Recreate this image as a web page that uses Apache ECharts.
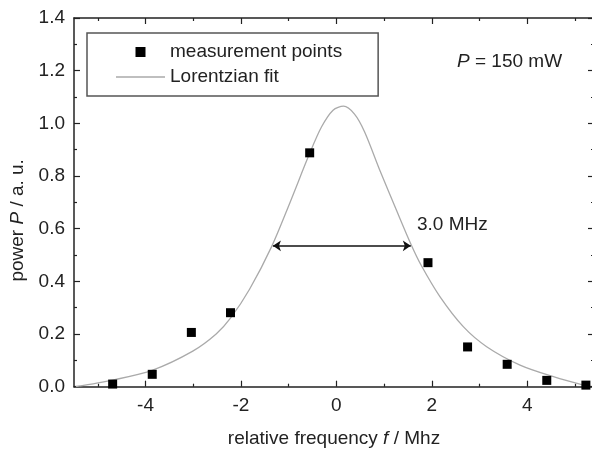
<!DOCTYPE html>
<html>
<head>
<meta charset="utf-8">
<script src="https://cdn.jsdelivr.net/npm/echarts@6/dist/echarts.min.js"></script>
<style>html,body{margin:0;padding:0;background:#fff}#c{width:592px;height:450px}</style>
</head>
<body>
<div id="c"></div>
<script>
// measurement points
const measX = [-4.69, -3.86, -3.04, -2.22, -0.56, 1.92, 2.75, 3.58, 4.41, 5.23];
const measY = [0.01, 0.047, 0.206, 0.281, 0.888, 0.471, 0.151, 0.085, 0.024, 0.006];
// Lorentzian fit curve
const fitX = [-5.46, -4.69, -3.85, -3.01, -2.52, -2.22, -1.82, -1.36, -0.98, -0.56, -0.31, -0.07, 0.15, 0.38, 0.59, 0.91, 1.26, 1.57, 1.78, 2.17, 2.66, 3.15, 3.85, 4.55, 5.18, 5.32];
const fitY = [0.0, 0.025, 0.063, 0.135, 0.2, 0.26, 0.37, 0.531, 0.696, 0.886, 0.987, 1.05, 1.065, 1.035, 0.968, 0.822, 0.67, 0.538, 0.46, 0.342, 0.228, 0.152, 0.082, 0.038, 0.006, 0.002];
// FWHM arrow
const fwhmLeft = -1.33, fwhmRight = 1.56, halfMax = 0.535;
// ticks
const xMajorTicks = [-4, -2, 0, 2, 4];
const xMinorTicks = [-5, -3, -1, 1, 3, 5];
const seriesNames = ['measurement points', 'Lorentzian fit'];

const FONT = '"Liberation Sans", Arial, sans-serif';
const TXT = '#222';
const AX = '#222';
const FIT = '#aaa';

const chart = echarts.init(document.getElementById('c'), null, {renderer: 'canvas'});

function xAx(pos, ticks, len, showLine, showLabel, extra) {
  return Object.assign({
    type: 'value', gridIndex: 0, position: pos, min: -5.5, max: 5.4,
    axisLine: {show: showLine, onZero: false, lineStyle: {color: AX, width: 1.5}},
    axisTick: {show: true, inside: true, length: len, customValues: ticks, lineStyle: {color: AX, width: 1.2}},
    axisLabel: {show: showLabel, customValues: ticks, margin: 10, fontSize: 19, color: TXT, fontFamily: FONT},
    splitLine: {show: false}
  }, extra || {});
}

const option = {
  animation: false,
  backgroundColor: '#fff',
  grid: {left: 74, top: 18, width: 520, height: 368.7, containLabel: false, outerBoundsMode: 'none'},
  xAxis: [
    xAx('bottom', xMajorTicks, 6, true, true, {
      name: 'relative frequency {i|f} / Mhz', nameLocation: 'middle', nameGap: 43,
      nameTextStyle: {fontSize: 19, color: TXT, fontFamily: FONT,
        rich: {i: {fontStyle: 'italic', fontSize: 19, color: TXT, fontFamily: FONT}}}
    }),
    xAx('bottom', xMinorTicks, 3, false, false),
    xAx('top', xMajorTicks, 6, true, false),
    xAx('top', xMinorTicks, 3, false, false)
  ],
  yAxis: [
    {
      type: 'value', position: 'left', min: 0, max: 1.4, interval: 0.2,
      axisLine: {show: true, onZero: false, lineStyle: {color: AX, width: 1.5}},
      axisTick: {show: true, inside: true, length: 6, lineStyle: {color: AX, width: 1.2}},
      minorTick: {show: true, splitNumber: 2, length: 3, lineStyle: {color: AX, width: 1.2}},
      axisLabel: {margin: 9, fontSize: 19, color: TXT, fontFamily: FONT, formatter: v => v.toFixed(1)},
      splitLine: {show: false}, minorSplitLine: {show: false},
      name: 'power {i|P} / a. u.', nameLocation: 'middle', nameGap: 43, nameRotate: 90,
      nameTextStyle: {fontSize: 19, color: TXT, fontFamily: FONT, padding: [0, 36, 0, 0],
        rich: {i: {fontStyle: 'italic', fontSize: 19, color: TXT, fontFamily: FONT}}}
    },
    {
      type: 'value', position: 'right', min: 0, max: 1.4, interval: 0.2,
      axisLine: {show: true, onZero: false, lineStyle: {color: AX, width: 1.5}},
      axisTick: {show: true, inside: true, length: 6, lineStyle: {color: AX, width: 1.2}},
      minorTick: {show: true, splitNumber: 2, length: 3, lineStyle: {color: AX, width: 1.2}},
      axisLabel: {show: false}, splitLine: {show: false}, minorSplitLine: {show: false}
    }
  ],
  legend: {
    left: 87, top: 33, orient: 'vertical',
    itemWidth: 49, itemHeight: 10, itemGap: 5,
    padding: [9, 36, 9, 29],
    borderColor: '#555', borderWidth: 1.5,
    symbolKeepAspect: true,
    textStyle: {fontSize: 19, color: TXT, fontFamily: FONT, lineHeight: 20},
    data: [
      {name: seriesNames[0], icon: 'path://M0,0L10,0L10,10L0,10Z', itemStyle: {color: '#000', opacity: 1}},
      {name: seriesNames[1], icon: 'path://M0,0L98,0L98,3L0,3Z', itemStyle: {color: FIT}}
    ]
  },
  graphic: [
    {type: 'text', left: 457, top: 52, style: {text: '{i|P} = 150 mW', fontSize: 19, fill: TXT, fontFamily: FONT,
      rich: {i: {fontStyle: 'italic', fontSize: 19, fill: TXT, fontFamily: FONT}}}},
    {type: 'text', left: 417, top: 215, style: {text: '3.0 MHz', fontSize: 19, fill: TXT, fontFamily: FONT}}
  ],
  series: [
    {
      name: seriesNames[1], type: 'line', xAxisIndex: 0, yAxisIndex: 0,
      data: fitX.map((x, i) => [x, fitY[i]]),
      showSymbol: false, symbol: 'none', smooth: 0.3,
      lineStyle: {color: FIT, width: 1.3},
      itemStyle: {color: FIT},
      z: 2,
      markLine: {
        silent: true, symbol: ['arrow', 'arrow'], symbolSize: 8,
        label: {show: false},
        lineStyle: {color: '#111', width: 1.5, type: 'solid'},
        data: [[{coord: [fwhmLeft, halfMax]}, {coord: [fwhmRight, halfMax]}]]
      }
    },
    {
      name: seriesNames[0], type: 'scatter', xAxisIndex: 0, yAxisIndex: 0,
      data: measX.map((x, i) => [x, measY[i]]),
      symbol: 'rect', symbolSize: 9,
      itemStyle: {color: '#000', opacity: 1},
      z: 3
    }
  ]
};
chart.setOption(option);
</script>
</body>
</html>
